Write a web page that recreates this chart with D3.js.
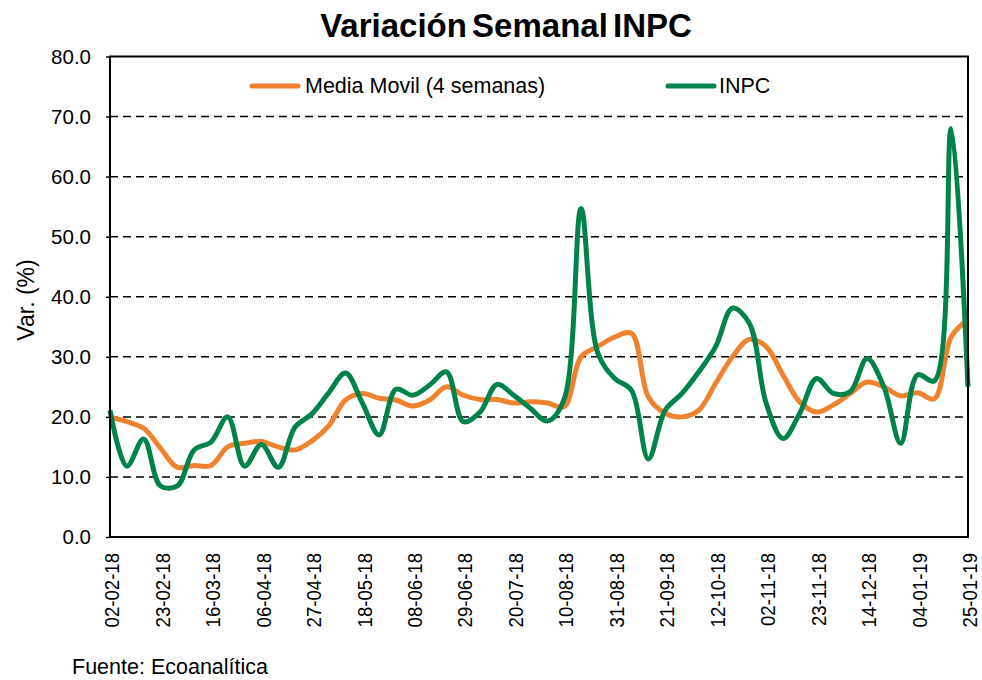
<!DOCTYPE html>
<html>
<head>
<meta charset="utf-8">
<script src="https://cdn.jsdelivr.net/npm/d3@7"></script>
<style>
    body { margin: 0; background: #fff; }
    svg { font-family: "Liberation Sans", Arial, sans-serif; }
</style>
</head>
<body>
<div id="chart"></div>
<script>
// weekly dates (dd-mm-yy)
const weeks = [
    "02-02-18","09-02-18","16-02-18","23-02-18","02-03-18","09-03-18","16-03-18","23-03-18",
    "30-03-18","06-04-18","13-04-18","20-04-18","27-04-18","04-05-18","11-05-18","18-05-18",
    "25-05-18","01-06-18","08-06-18","15-06-18","22-06-18","29-06-18","06-07-18","13-07-18",
    "20-07-18","27-07-18","03-08-18","10-08-18","17-08-18","24-08-18","31-08-18","07-09-18",
    "14-09-18","21-09-18","28-09-18","05-10-18","12-10-18","19-10-18","26-10-18","02-11-18",
    "09-11-18","16-11-18","23-11-18","30-11-18","07-12-18","14-12-18","21-12-18","28-12-18",
    "04-01-19","11-01-19","18-01-19","25-01-19"
];

const inpc = [
    21.1, 11.8, 16.3, 8.5, 8.5, 14.5, 15.8, 20.0, 11.8, 15.4, 11.6, 18.3, 20.5,
    24.0, 27.3, 22.3, 17.0, 24.6, 23.6, 25.3, 27.5, 19.2, 20.8, 25.4, 23.6, 21.4,
    19.3, 23.0, 54.7, 30.6, 26.4, 24.4, 13.0, 21.1, 23.9, 27.5, 31.7, 38.1, 35.6,
    22.3, 16.4, 20.6, 26.4, 23.9, 24.2, 29.7, 25.0, 15.6, 27.0, 26.0, 68.0, 25.0
];

const mediaMovil = [
    20.0, 19.2, 18.1, 14.8, 11.6, 11.9, 11.9, 15.0, 15.6, 15.9, 15.0, 14.5, 16.0,
    18.5, 22.8, 23.9, 23.1, 22.8, 21.8, 22.8, 25.0, 23.6, 22.9, 22.9, 22.3, 22.5,
    22.3, 21.7, 30.0, 31.7, 33.3, 33.9, 23.3, 20.6, 20.0, 21.1, 25.6, 30.0, 32.9,
    31.7, 27.0, 22.5, 20.8, 22.0, 23.9, 25.8, 25.0, 23.5, 24.0, 23.0, 33.3, 36.2
];

const yTicks = [0, 10, 20, 30, 40, 50, 60, 70, 80];
const xTickLabels = weeks.filter((d, i) => i % 3 === 0);

const series = [
    { name: "Media Movil (4 semanas)", values: mediaMovil, color: "#F0822F" },
    { name: "INPC", values: inpc, color: "#00834A" }
];

const W = 982, H = 680;
const plot = { left: 110, right: 968, top: 56.5, bottom: 537 };

const svg = d3.select("#chart").append("svg")
    .attr("width", W)
    .attr("height", H);

const x = d3.scalePoint().domain(weeks).range([plot.left, plot.right]);
const y = d3.scaleLinear().domain([0, 80]).range([plot.bottom, plot.top]);

// title
svg.append("text")
    .attr("x", 506)
    .attr("y", 36.5)
    .attr("text-anchor", "middle")
    .style("font-size", "33px")
    .style("font-weight", "bold")
    .style("word-spacing", "-4px")
    .text("Variación Semanal INPC");

// gridlines (dashed)
svg.append("g")
    .selectAll("line")
    .data(yTicks.filter(d => d > 0 && d < 80))
    .enter().append("line")
    .attr("x1", plot.left).attr("x2", plot.right)
    .attr("y1", d => y(d)).attr("y2", d => y(d))
    .attr("stroke", "#000")
    .attr("stroke-width", 1.5)
    .attr("stroke-dasharray", "8,5");

// y axis
const yAxis = d3.axisLeft(y).tickValues(yTicks).tickFormat(d3.format(".1f")).tickSizeInner(4).tickSizeOuter(0).tickPadding(15);
const gy = svg.append("g").attr("transform", `translate(${plot.left},0)`).call(yAxis);
gy.select(".domain").remove();
gy.selectAll("line").attr("stroke", "#000").attr("stroke-width", 1.5);
gy.selectAll("text")
    .style("font-size", "20.5px")
    .style("font-family", "Liberation Sans, Arial, sans-serif")
    .attr("fill", "#000");

// x axis labels (rotated, slightly condensed)
const xAxis = d3.axisBottom(x).tickValues(xTickLabels).tickSize(0).tickPadding(0);
const gx = svg.append("g").attr("transform", `translate(0,${plot.bottom})`).call(xAxis);
gx.select(".domain").remove();
gx.selectAll("text")
    .attr("transform", "translate(1.5,16) rotate(-90) scale(0.93,1)")
    .attr("x", 0)
    .attr("y", 0)
    .attr("dy", "0.36em")
    .attr("text-anchor", "end")
    .style("font-size", "20px")
    .style("font-family", "Liberation Sans, Arial, sans-serif")
    .attr("fill", "#000");

// y axis title
svg.append("text")
    .attr("transform", `translate(34,300) rotate(-90)`)
    .attr("text-anchor", "middle")
    .style("font-size", "23px")
    .text("Var. (%)");

// lines
const line = d3.line()
    .x((d, i) => x(weeks[i]))
    .y(d => y(d))
    .curve(d3.curveCatmullRom.alpha(0.5));

svg.append("g")
    .selectAll("path")
    .data(series)
    .enter().append("path")
    .attr("d", d => line(d.values))
    .attr("fill", "none")
    .attr("stroke", d => d.color)
    .attr("stroke-width", 5)
    .attr("stroke-linejoin", "round");

// plot border
svg.append("rect")
    .attr("x", plot.left).attr("y", plot.top)
    .attr("width", plot.right - plot.left)
    .attr("height", plot.bottom - plot.top)
    .attr("fill", "none")
    .attr("stroke", "#000")
    .attr("stroke-width", 2);

// legend
const legendPos = [{ x: 252, tx: 305 }, { x: 668, tx: 719 }];
const legend = svg.append("g").selectAll("g")
    .data(series)
    .enter().append("g");

legend.append("line")
    .attr("x1", (d, i) => legendPos[i].x)
    .attr("x2", (d, i) => legendPos[i].x + 46)
    .attr("y1", 86).attr("y2", 86)
    .attr("stroke", d => d.color)
    .attr("stroke-width", 5)
    .attr("stroke-linecap", "round");

legend.append("text")
    .attr("x", (d, i) => legendPos[i].tx)
    .attr("y", 93)
    .style("font-size", "21.5px")
    .text(d => d.name);

// source
svg.append("text")
    .attr("x", 72)
    .attr("y", 674)
    .style("font-size", "21.5px")
    .text("Fuente: Ecoanalítica");
</script>
</body>
</html>
